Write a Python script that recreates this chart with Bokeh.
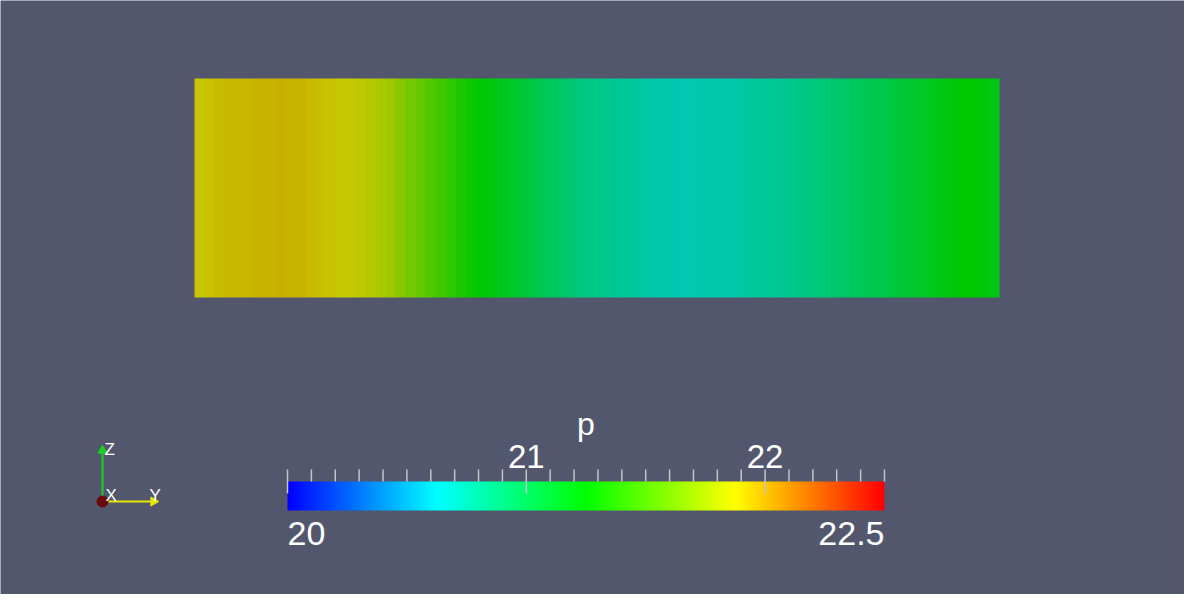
import numpy as np
from bokeh.plotting import figure
from bokeh.models import LinearColorMapper, Range1d
from bokeh.core.properties import value
from bokeh.embed import file_html
from bokeh.resources import INLINE

# ---------------- data ----------------
field_name = "p"
p_low, p_high = 20.0, 22.5
# p read at 80 equal steps along the channel length (left to right)
p_along_length = [
    21.883, 21.893, 21.906, 21.915, 21.921, 21.928, 21.935, 21.940, 21.944, 21.943,
    21.937, 21.915, 21.900, 21.886, 21.873, 21.860, 21.845, 21.815, 21.780, 21.740,
    21.670, 21.620, 21.560, 21.500, 21.445, 21.390, 21.335, 21.285, 21.240, 21.205,
    21.170, 21.135, 21.085, 21.045, 21.005, 20.965, 20.930, 20.897, 20.863, 20.835,
    20.812, 20.792, 20.776, 20.762, 20.747, 20.732, 20.720, 20.710, 20.703, 20.702,
    20.706, 20.713, 20.720, 20.730, 20.740, 20.755, 20.770, 20.785, 20.800, 20.820,
    20.840, 20.860, 20.880, 20.905, 20.930, 20.955, 20.980, 21.000, 21.025, 21.055,
    21.085, 21.110, 21.140, 21.170, 21.200, 21.230, 21.245, 21.250, 21.225, 21.185]
major_ticks = [21.0, 22.0]
major_labels = ["21", "22"]
end_values = [20.0, 22.5]
end_labels = ["20", "22.5"]
minor_step = 0.1
axis_names = ["X", "Y", "Z"]

# ---------------- style / layout ----------------
W, H = 1184, 594
BG = "#52576e"
stops = [(0, 0, 255), (0, 255, 255), (0, 255, 0), (255, 255, 0), (255, 0, 0)]
shade = 0.784
FONT = value("Liberation Sans")

def make_palette(factor):
    pal = []
    for i in range(256):
        t = i / 255 * (len(stops) - 1)
        k = min(int(t), len(stops) - 2)
        f = t - k
        c = [int(round(((1 - f) * stops[k][j] + f * stops[k + 1][j]) * factor)) for j in range(3)]
        pal.append("#%02x%02x%02x" % tuple(c))
    return pal

pal_full = make_palette(1.0)
pal_shaded = make_palette(shade)

def px(page_x):
    return page_x - 8

def py(page_y):
    return 602 - page_y

fig = figure(width=W, height=H, output_backend="svg", toolbar_location=None,
             x_range=Range1d(0, W), y_range=Range1d(0, H), min_border=0)
fig.axis.visible = False
fig.grid.visible = False
fig.outline_line_color = None
fig.background_fill_color = BG
fig.border_fill_color = BG

# range for the channel (length 0..1)
L0, L1 = px(202), px(1007)
s = (L1 - L0)
fig.extra_x_ranges["len"] = Range1d(-L0 / s, (W - L0) / s)
# range for the colour bar values
C0, C1 = px(295), px(892)
cs = (C1 - C0) / (p_high - p_low)
fig.extra_x_ranges["cb"] = Range1d(p_low - C0 / cs, p_low + (W - C0) / cs)

# ---- field ----
field_map = LinearColorMapper(palette=pal_shaded, low=p_low, high=p_high)
fig.image(image=[np.array([p_along_length])], x=0, y=py(305), dw=1.0, dh=py(86) - py(305),
          color_mapper=field_map, x_range_name="len")

# ---- colour bar ----
bar_map = LinearColorMapper(palette=pal_full, low=p_low, high=p_high)
ramp = np.linspace(p_low, p_high, 256)[None, :]
fig.image(image=[ramp], x=p_low, y=py(518), dw=p_high - p_low, dh=py(489) - py(518),
          color_mapper=bar_map, x_range_name="cb")

ticks = np.round(np.arange(p_low, p_high + 1e-9, minor_step), 3)
is_major = np.isin(ticks, [20.0] + major_ticks)
fig.segment(x0=ticks, x1=ticks, y0=np.where(is_major, py(501), py(489)), y1=py(477),
            line_color="#c4c4c8", line_width=1.5, x_range_name="cb")

fig.text(x=major_ticks, y=[py(464)] * 2, text=major_labels, x_range_name="cb",
         text_color="white", text_font=FONT, text_font_size="33px",
         text_align="center", text_baseline="alphabetic")
fig.text(x=end_values, y=[py(541)] * 2, text=end_labels, x_range_name="cb",
         text_color="white", text_font=FONT, text_font_size="34px",
         text_align=["left", "right"], text_baseline="alphabetic")
fig.text(x=[(p_low + p_high) / 2], y=[py(431)], text=[field_name], x_range_name="cb",
         text_color="white", text_font=FONT, text_font_size="32px",
         text_align="center", text_baseline="alphabetic")

# ---- orientation triad ----
ox, oy = px(110), py(509)
fig.segment(x0=[ox], y0=[oy], x1=[ox], y1=[py(456)], line_color="#20d020", line_width=2)
fig.scatter(x=[ox], y=[py(458)], marker="triangle", size=9, fill_color="#20d020",
            line_color="#20d020")
fig.segment(x0=[ox], y0=[oy], x1=[px(163)], y1=[oy], line_color="#e6e600", line_width=2)
fig.scatter(x=[px(161)], y=[oy], marker="triangle", angle=-np.pi / 2, size=9,
            fill_color="#e6e600", line_color="#e6e600")
fig.scatter(x=[ox], y=[oy], marker="circle", size=11, fill_color="#6a0a0a", line_color="#6a0a0a")
fig.text(x=[px(113), px(157), px(112)], y=[py(503), py(503), py(457)], text=axis_names,
         text_color="white", text_font=FONT, text_font_size="17px",
         text_align="left", text_baseline="alphabetic")

open("out.html", "w").write(file_html(fig, INLINE))
